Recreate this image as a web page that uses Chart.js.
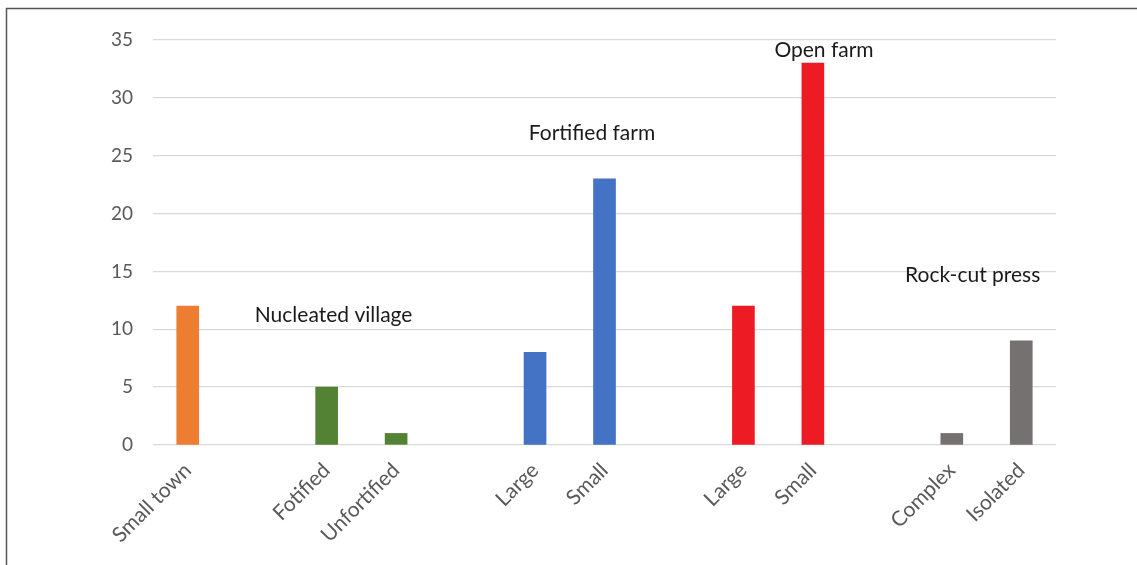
<!DOCTYPE html>
<html><head><meta charset="utf-8">
<script src="https://cdn.jsdelivr.net/npm/chart.js@4/dist/chart.umd.min.js"></script>
<style>html,body{margin:0;padding:0;background:#fff;}#wrap{position:relative;width:1137px;height:565px;}canvas{display:block;}</style>
</head><body><div id="wrap"><canvas id="c" width="1137" height="565"></canvas></div>
<script>
const categories = ["Small town", "", "Fotified", "Unfortified", "", "Large", "Small", "", "Large", "Small", "", "Complex", "Isolated"];
const counts = [12, null, 5, 1, null, 8, 23, null, 12, 33, null, 1, 9];
const barColors = ["#ED7D31", null, "#548235", "#548235", null, "#4472C4", "#4472C4", null, "#ED1C24", "#ED1C24", null, "#767171", "#767171"];
const yTicks = [0, 5, 10, 15, 20, 25, 30, 35];
const groupNames = ["Nucleated village", "Fortified farm", "Open farm", "Rock-cut press"];
const groupAnchors = [[2.1, 11.2], [5.82, 26.9], [9.16, 34.1], [11.3, 14.7]];

const FONT = "Lato, 'Open Sans', sans-serif";

const framePlugin = {
  id: 'frame',
  beforeDraw(chart) {
    const ctx = chart.ctx;
    ctx.save();
    ctx.fillStyle = '#fff';
    ctx.fillRect(0, 0, chart.width, chart.height);
    ctx.strokeStyle = '#555';
    ctx.lineWidth = 1.5;
    ctx.beginPath();
    ctx.moveTo(6.5, chart.height);
    ctx.lineTo(6.5, 8.5);
    ctx.lineTo(chart.width, 8.5);
    ctx.stroke();
    ctx.restore();
  }
};

const groupLabelPlugin = {
  id: 'groupLabels',
  afterDatasetsDraw(chart) {
    const ctx = chart.ctx, xs = chart.scales.x, ys = chart.scales.y;
    ctx.save();
    ctx.font = "21px " + FONT;
    ctx.fillStyle = '#1a1a1a';
    ctx.textAlign = 'center';
    ctx.textBaseline = 'middle';
    groupNames.forEach((name, i) => {
      const [cx, cy] = groupAnchors[i];
      ctx.fillText(name, xs.getPixelForValue(cx), ys.getPixelForValue(cy));
    });
    ctx.restore();
  }
};

new Chart(document.getElementById('c'), {
  type: 'bar',
  data: {
    labels: categories,
    datasets: [{
      data: counts,
      backgroundColor: barColors,
      barThickness: 22,
      borderWidth: 0
    }]
  },
  options: {
    responsive: false,
    animation: false,
    devicePixelRatio: 1,
    layout: { padding: { top: 40, left: 10, right: 81, bottom: 0 } },
    plugins: { legend: { display: false }, tooltip: { enabled: false } },
    scales: {
      x: {
        grid: { display: false, drawTicks: false },
        border: { display: false },
        ticks: {
          color: '#595959',
          font: { family: FONT, size: 21 },
          minRotation: 45,
          maxRotation: 45,
          padding: 13,
          autoSkip: false
        },
        afterFit(scale) { scale.height = 120; }
      },
      y: {
        min: 0, max: 35,
        afterBuildTicks(scale) { scale.ticks = yTicks.map(v => ({ value: v })); },
        grid: { color: '#d9d9d9', lineWidth: 1.3, drawTicks: false },
        border: { display: false },
        ticks: {
          color: '#595959',
          font: { family: FONT, size: 19 },
          padding: 20
        },
        afterFit(scale) { scale.width = 143; }
      }
    }
  },
  plugins: [framePlugin, groupLabelPlugin]
});
</script>
</body></html>
